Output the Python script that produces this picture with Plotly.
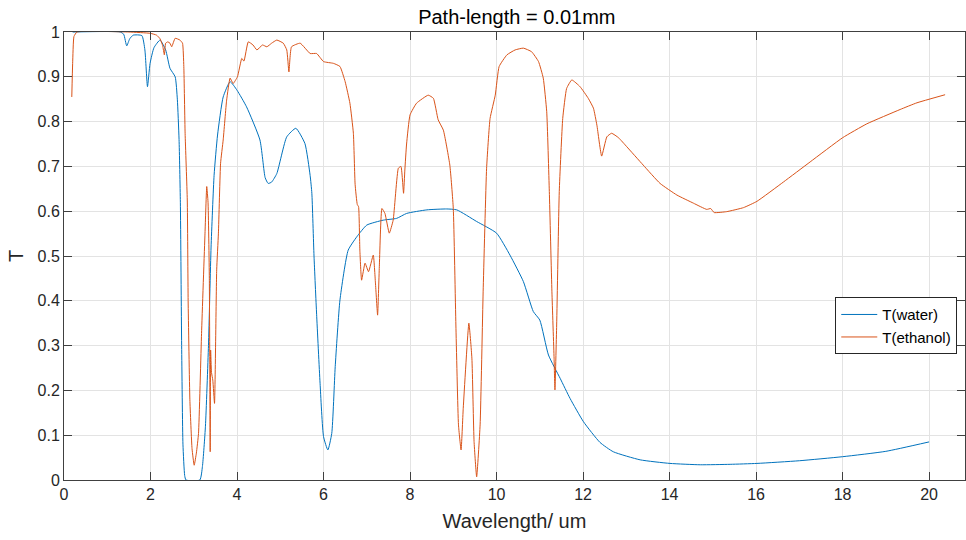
import plotly.graph_objects as go

# Transmission spectra, path length 0.01 mm
water_wl = [0.2, 1.3, 1.38, 1.45, 1.52, 1.6, 1.8, 1.87, 1.93, 1.99, 2.08, 2.22, 2.35, 2.45,
            2.57, 2.62, 2.66, 2.69, 2.72, 2.75, 2.79, 2.82, 3.14, 3.20, 3.27, 3.34, 3.40,
            3.47, 3.55, 3.68, 3.84, 4.0, 4.22, 4.53, 4.65, 4.72, 4.80, 4.92, 5.15, 5.36,
            5.57, 5.69, 5.73, 5.78, 5.84, 5.92, 6.0, 6.10, 6.19, 6.27, 6.38, 6.57, 6.77,
            7.0, 7.38, 7.69, 7.92, 8.39, 8.85, 9.08, 9.54, 10.0, 10.31, 10.62, 10.85,
            11.0, 11.2, 11.47, 11.70, 12.01, 12.39, 12.70, 13.32, 14.01, 14.71, 15.40,
            16.02, 17.0, 18.0, 19.0, 20.0]
water_T = [1.0, 1.0, 0.995, 0.969, 0.985, 0.993, 0.992, 0.96, 0.878, 0.93, 0.965, 0.982,
           0.96, 0.919, 0.90, 0.85, 0.76, 0.62, 0.30, 0.08, 0.01, 0.0, 0.0, 0.03, 0.12,
           0.30, 0.52, 0.68, 0.77, 0.855, 0.889, 0.87, 0.833, 0.759, 0.675, 0.662, 0.665,
           0.684, 0.766, 0.785, 0.751, 0.68, 0.64, 0.50, 0.37, 0.216, 0.097, 0.067, 0.104,
           0.253, 0.402, 0.513, 0.543, 0.569, 0.58, 0.584, 0.595, 0.603, 0.605, 0.603,
           0.577, 0.551, 0.502, 0.443, 0.376, 0.357, 0.279, 0.227, 0.182, 0.130, 0.084,
           0.063, 0.045, 0.037, 0.034, 0.035, 0.037, 0.043, 0.052, 0.064, 0.085]

ethanol_wl = [0.18, 0.2, 0.23, 0.3, 1.5, 2.0, 2.14, 2.22, 2.28, 2.32, 2.35, 2.40, 2.45, 2.49,
              2.57, 2.68, 2.74, 2.77, 2.80, 2.85, 2.87, 2.91, 2.96, 3.01, 3.06, 3.11, 3.18,
              3.26, 3.30, 3.33, 3.36, 3.38, 3.39, 3.41, 3.44, 3.48, 3.53, 3.57, 3.62, 3.68,
              3.76, 3.84, 3.91, 4.01, 4.11, 4.16, 4.26, 4.37, 4.46, 4.59, 4.69, 4.80, 4.92,
              5.07, 5.15, 5.20, 5.26, 5.46, 5.69, 5.84, 6.0, 6.23, 6.38, 6.50, 6.61, 6.69,
              6.73, 6.78, 6.81, 6.84, 6.88, 6.96, 7.04, 7.15, 7.20, 7.25, 7.29, 7.35, 7.42,
              7.52, 7.61, 7.73, 7.79, 7.85, 7.88, 7.92, 8.0, 8.15, 8.42, 8.54, 8.65, 8.77,
              8.92, 9.0, 9.06, 9.12, 9.18, 9.23, 9.36, 9.43, 9.48, 9.54, 9.62, 9.69, 9.77,
              9.85, 9.97, 10.06, 10.24, 10.43, 10.62, 10.81, 10.97, 11.08, 11.16, 11.22,
              11.28, 11.33, 11.35, 11.39, 11.45, 11.53, 11.62, 11.74, 11.93, 12.12, 12.24,
              12.32, 12.43, 12.55, 12.66, 12.82, 13.01, 13.39, 13.78, 14.17, 14.55, 14.86,
              14.95, 15.03, 15.32, 15.71, 16.02, 16.63, 17.25, 18.0, 18.56, 19.33, 19.72,
              20.37]
ethanol_T = [0.855, 0.93, 0.99, 1.0, 1.0, 0.997, 0.993, 0.985, 0.97, 0.949, 0.975, 0.978,
             0.975, 0.967, 0.986, 0.982, 0.975, 0.923, 0.774, 0.625, 0.40, 0.179, 0.07,
             0.033, 0.06, 0.104, 0.327, 0.551, 0.655, 0.62, 0.45, 0.063, 0.29, 0.24, 0.223,
             0.171, 0.469, 0.551, 0.707, 0.759, 0.848, 0.897, 0.885, 0.90, 0.941, 0.935,
             0.978, 0.971, 0.96, 0.971, 0.967, 0.975, 0.982, 0.975, 0.96, 0.911, 0.967,
             0.975, 0.952, 0.952, 0.934, 0.93, 0.923, 0.889, 0.841, 0.774, 0.66, 0.615,
             0.61, 0.513, 0.446, 0.484, 0.465, 0.502, 0.44, 0.368, 0.476, 0.606, 0.595,
             0.551, 0.58, 0.696, 0.70, 0.640, 0.692, 0.75, 0.815, 0.841, 0.859, 0.852,
             0.804, 0.781, 0.703, 0.606, 0.346, 0.123, 0.067, 0.16, 0.35, 0.272, 0.086,
             0.007, 0.123, 0.42, 0.696, 0.807, 0.859, 0.923, 0.949, 0.96, 0.964, 0.956,
             0.934, 0.897, 0.822, 0.644, 0.42, 0.272, 0.201, 0.346, 0.644, 0.807, 0.874,
             0.893, 0.878, 0.852, 0.83, 0.792, 0.723, 0.766, 0.774, 0.764, 0.744, 0.703,
             0.662, 0.636, 0.618, 0.604, 0.606, 0.597, 0.599, 0.608, 0.622, 0.665, 0.71,
             0.764, 0.795, 0.827, 0.842, 0.86]

x_ticks = list(range(0, 21, 2))
y_ticks = [round(0.1 * i, 1) for i in range(11)]

BLUE = "#0072BD"
ORANGE = "#D95319"
AXIS = "#404040"
GRID = "#e3e3e3"
FONT = "Liberation Sans, Arial, sans-serif"

fig = go.Figure()
fig.add_trace(go.Scatter(x=water_wl, y=water_T, mode="lines", name="T(water)",
                         line=dict(color=BLUE, width=1, shape="spline", smoothing=0.5)))
fig.add_trace(go.Scatter(x=ethanol_wl, y=ethanol_T, mode="lines", name="T(ethanol)",
                         line=dict(color=ORANGE, width=1, shape="spline", smoothing=0.4)))

axis_common = dict(showline=True, linecolor=AXIS, linewidth=1, mirror="ticks",
                   ticks="inside", ticklen=8, tickcolor=AXIS, showgrid=True,
                   gridcolor=GRID, gridwidth=1, zeroline=False,
                   tickfont=dict(family=FONT, size=16, color="#262626"))

fig.update_layout(
    width=966, height=540,
    margin=dict(l=64, r=1, t=32, b=60),
    paper_bgcolor="white", plot_bgcolor="white",
    font=dict(family=FONT, color="#262626"),
    title=dict(text="Path-length = 0.01mm", x=0.535, xanchor="center",
               y=0.968, yanchor="middle",
               font=dict(family=FONT, size=20, color="#000000")),
    xaxis=dict(range=[0, 20.83], tickvals=x_ticks,
               title=dict(text="Wavelength/ um", font=dict(family=FONT, size=20, color="#262626"),
                          standoff=11),
               **axis_common),
    yaxis=dict(range=[0, 1], tickvals=y_ticks,
               ticktext=[f"{v:g}" for v in y_ticks],
               title=dict(text="T", font=dict(family=FONT, size=20, color="#262626"),
                          standoff=8),
               **axis_common),
    legend=dict(x=0.856, y=0.408, xanchor="left", yanchor="top",
                bgcolor="white", bordercolor="#262626", borderwidth=1,
                font=dict(family=FONT, size=15, color="#000000"),
                tracegroupgap=0, itemwidth=36),
    showlegend=True,
)

fig.write_html("out.html")
